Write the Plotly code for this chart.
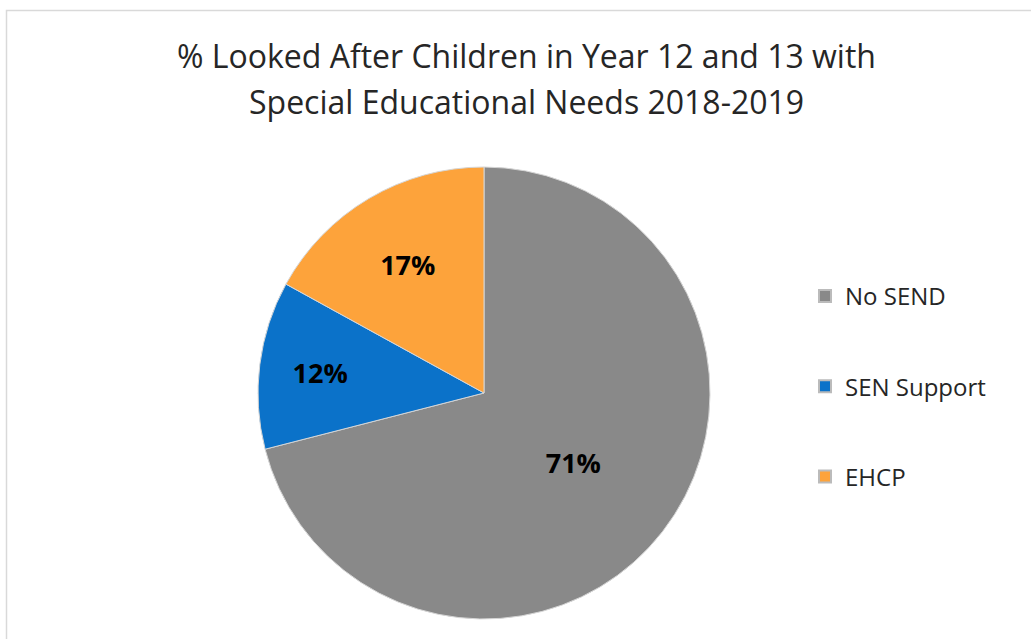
import plotly.graph_objects as go

categories = ["No SEND", "SEN Support", "EHCP"]
values = [71, 12, 17]
colors = ["#898989", "#0B72C9", "#FDA33B"]
title_lines = ["% Looked After Children in Year 12 and 13 with",
               "Special Educational Needs 2018-2019"]

W, H = 1031, 639
FONT = "Open Sans"
fig = go.Figure()

fig.add_trace(go.Pie(
    labels=categories,
    values=values,
    sort=False,
    direction="clockwise",
    rotation=0,
    marker=dict(colors=colors, line=dict(color="#d6d6d6", width=1)),
    textinfo="percent",
    texttemplate="<b>%{percent:.0%}</b>",
    textposition="inside",
    insidetextorientation="horizontal",
    textfont=dict(family=FONT, size=27, color="#000000"),
    domain=dict(x=[258 / W, 710 / W], y=[(H - 619) / H, (H - 167) / H]),
    showlegend=False,
    hoverinfo="label+percent",
))

# legend entries (dummy traces so that spacing matches the original)
for c, col in zip(categories, colors):
    fig.add_trace(go.Scatter(
        x=[None], y=[None], mode="markers", name=c,
        marker=dict(symbol="square", size=12, color=col,
                    line=dict(color="#bbbbbb", width=0.5)),
        legendgroup=c, showlegend=True,
    ))

fig.update_layout(
    width=W, height=H,
    margin=dict(l=0, r=0, t=0, b=0),
    paper_bgcolor="white",
    plot_bgcolor="white",
    xaxis=dict(visible=False),
    yaxis=dict(visible=False),
    legend=dict(
        x=805 / W, y=(H - 274) / H, xanchor="left", yanchor="top",
        font=dict(family=FONT, size=24, color="#262626"),
        traceorder="grouped", tracegroupgap=56,
        itemsizing="constant", bgcolor="rgba(0,0,0,0)",
    ),
    annotations=[
        dict(text=title_lines[0], x=526 / W, y=(H - 55) / H, xref="paper", yref="paper",
             showarrow=False, xanchor="center", yanchor="middle",
             font=dict(family=FONT, size=32, color="#262626")),
        dict(text=title_lines[1], x=526 / W, y=(H - 102) / H, xref="paper", yref="paper",
             showarrow=False, xanchor="center", yanchor="middle",
             font=dict(family=FONT, size=32, color="#262626")),
    ],
    shapes=[
        dict(type="rect", xref="paper", yref="paper",
             x0=6.5 / W, x1=1.01, y0=-0.01, y1=(H - 10.5) / H,
             line=dict(color="#d9d9d9", width=1.5), fillcolor="rgba(0,0,0,0)", layer="below"),
    ],
)

fig.write_html("out.html", config={"displayModeBar": False},
               post_script="document.body.style.margin='0';")
